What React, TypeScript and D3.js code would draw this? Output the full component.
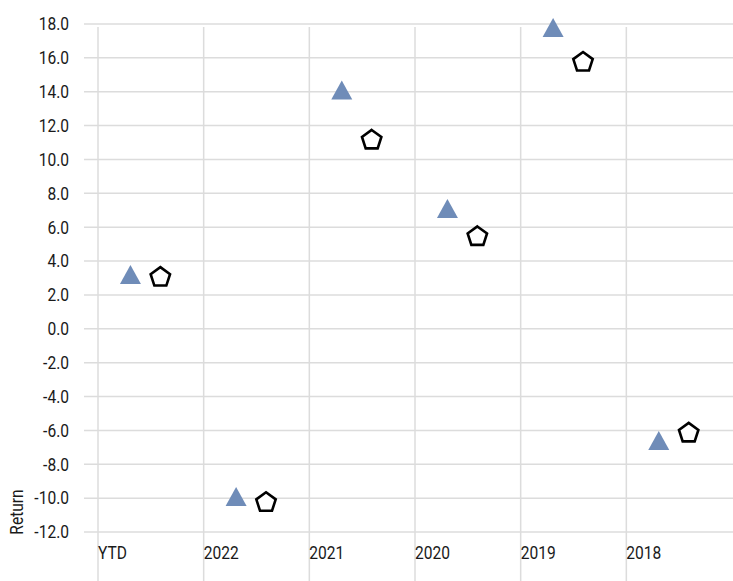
import { useEffect, useRef } from "react";
import * as d3 from "d3";

const categories = ["YTD", "2022", "2021", "2020", "2019", "2018"];
const seriesA = [3.2, -9.9, 14.1, 7.1, 17.8, -6.6];
const seriesB = [3.1, -10.2, 11.2, 5.5, 15.8, -6.1];
const yTicks = [18, 16, 14, 12, 10, 8, 6, 4, 2, 0, -2, -4, -6, -8, -10, -12];

const WIDTH = 733;
const HEIGHT = 581;
const FONT = "Roboto, sans-serif";
const FONT_SIZE = 17.5;
const SQUEEZE = 0.89; // fake a condensed face

export default function App() {
  const svgRef = useRef<SVGSVGElement>(null);

  useEffect(() => {
    const svg = d3.select(svgRef.current);
    svg.selectAll("*").remove();

    svg.append("rect").attr("width", WIDTH).attr("height", HEIGHT).attr("fill", "#fff");

    const x = d3.scaleBand<string>().domain(categories).range([98, 732]);
    const y = d3.scaleLinear().domain([-12, 18]).range([532, 24]);

    const label = (tx: number, ty: number, txt: string, anchor = "start", rot = 0) =>
      svg.append("text")
        .attr("transform", `translate(${tx},${ty}) rotate(${rot}) scale(${SQUEEZE},1)`)
        .attr("text-anchor", anchor)
        .attr("font-family", FONT).attr("font-size", FONT_SIZE)
        .attr("fill", "#1a1a1a")
        .text(txt);

    // horizontal grid + y labels
    yTicks.forEach((t) => {
      svg.append("line")
        .attr("x1", 84).attr("x2", WIDTH)
        .attr("y1", y(t)).attr("y2", y(t))
        .attr("stroke", "#dcdcdc").attr("stroke-width", 1.5);
      label(69, y(t) + 6.3, t.toFixed(1), "end");
    });

    // vertical grid + category labels
    categories.forEach((c) => {
      const x0 = x(c)!;
      svg.append("line")
        .attr("x1", x0).attr("x2", x0)
        .attr("y1", 27).attr("y2", HEIGHT)
        .attr("stroke", "#dcdcdc").attr("stroke-width", 1.5);
      label(x0, 559, c);
    });

    // axis title
    label(23, 512, "Return", "middle", -90);

    const bw = x.bandwidth();
    const triangle = (w: number, h: number) =>
      `M0,${-h / 2}L${w / 2},${h / 2}L${-w / 2},${h / 2}Z`;
    const pentagon = (r: number) => {
      const pts = d3.range(5).map((i) => {
        const a = -Math.PI / 2 + (i * 2 * Math.PI) / 5;
        return [r * Math.cos(a), r * Math.sin(a)];
      });
      return "M" + pts.map((p) => p.join(",")).join("L") + "Z";
    };

    categories.forEach((c, i) => {
      svg.append("path")
        .attr("d", triangle(21, 19))
        .attr("transform", `translate(${x(c)! + bw * 0.307},${y(seriesA[i])})`)
        .attr("fill", "#6f8cb8");
      svg.append("path")
        .attr("d", pentagon(10.2))
        .attr("transform", `translate(${x(c)! + bw * 0.59},${y(seriesB[i]) + 1})`)
        .attr("fill", "#fff")
        .attr("stroke", "#000")
        .attr("stroke-width", 2.6)
        .attr("stroke-linejoin", "miter");
    });
  }, []);

  return (
    <svg
      ref={svgRef}
      width={WIDTH}
      height={HEIGHT}
      style={{ position: "absolute", left: 0, top: 0 }}
    />
  );
}
